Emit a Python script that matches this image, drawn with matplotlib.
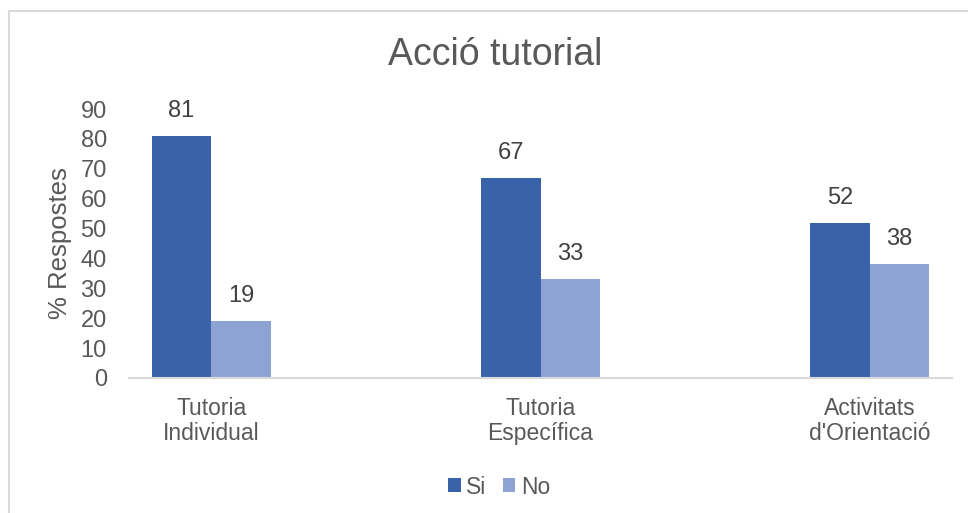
import matplotlib
matplotlib.use("Agg")
import matplotlib.pyplot as plt
import numpy as np
from matplotlib.patches import Rectangle

plt.rcParams["font.family"] = ["Liberation Sans", "DejaVu Sans"]

categories = ["Tutoria\nIndividual", "Tutoria\nEspecífica", "Activitats\nd'Orientació"]
si_vals = [81, 67, 52]
no_vals = [19, 33, 38]
series_names = ["Si", "No"]
yticks = list(range(0, 100, 10))

C_SI = "#3A62AA"
C_NO = "#8FA3D3"
TXT = "#595959"

fig = plt.figure(figsize=(9.68, 5.13), dpi=100)
# chart border (clipped at right/bottom like the source)
fig.add_artist(Rectangle((9 / 968, -0.1), 1.2, 1 - 11 / 513 + 0.1,
                         transform=fig.transFigure, fill=False,
                         edgecolor="#d9d9d9", lw=1.5))

ax = fig.add_axes([129 / 968, 1 - 378 / 513, (952 - 129) / 968, (378 - 109) / 513])
x = np.arange(len(categories))
w = 0.181
b1 = ax.bar(x - w / 2, si_vals, w, color=C_SI, label=series_names[0])
b2 = ax.bar(x + w / 2, no_vals, w, color=C_NO, label=series_names[1])

for bars in (b1, b2):
    for r in bars:
        ax.annotate(f"{r.get_height():.0f}", (r.get_x() + r.get_width() / 2, r.get_height()),
                    xytext=(0, 18), textcoords="offset points", ha="center", va="center",
                    fontsize=17, color="#404040", annotation_clip=False)

ax.set_xlim(-0.25, 2.25)
ax.set_ylim(0, 90)
ax.set_yticks(yticks)
ax.set_xticks(x)
ax.set_xticklabels(categories, fontsize=16.5, color=TXT, linespacing=1.1)
ax.tick_params(axis="y", length=0, pad=16, labelsize=17, labelcolor=TXT)
ax.tick_params(axis="x", length=0, pad=14)
for s in ("top", "right", "left"):
    ax.spines[s].set_visible(False)
ax.spines["bottom"].set_color("#d9d9d9")
ax.spines["bottom"].set_linewidth(1.5)
ax.set_ylabel("% Respostes", fontsize=18.5, color=TXT, labelpad=6)

fig.text(495 / 968, 1 - 55 / 513, "Acció tutorial", ha="center", va="center",
         fontsize=27, color=TXT)

fig.legend(loc="center", bbox_to_anchor=(499 / 968, 1 - 487 / 513), ncol=2,
           frameon=False, fontsize=16.5, handlelength=0.55, handleheight=0.55,
           handletextpad=0.25, columnspacing=0.7, labelcolor=TXT)

fig.savefig("out.png", dpi=100)
